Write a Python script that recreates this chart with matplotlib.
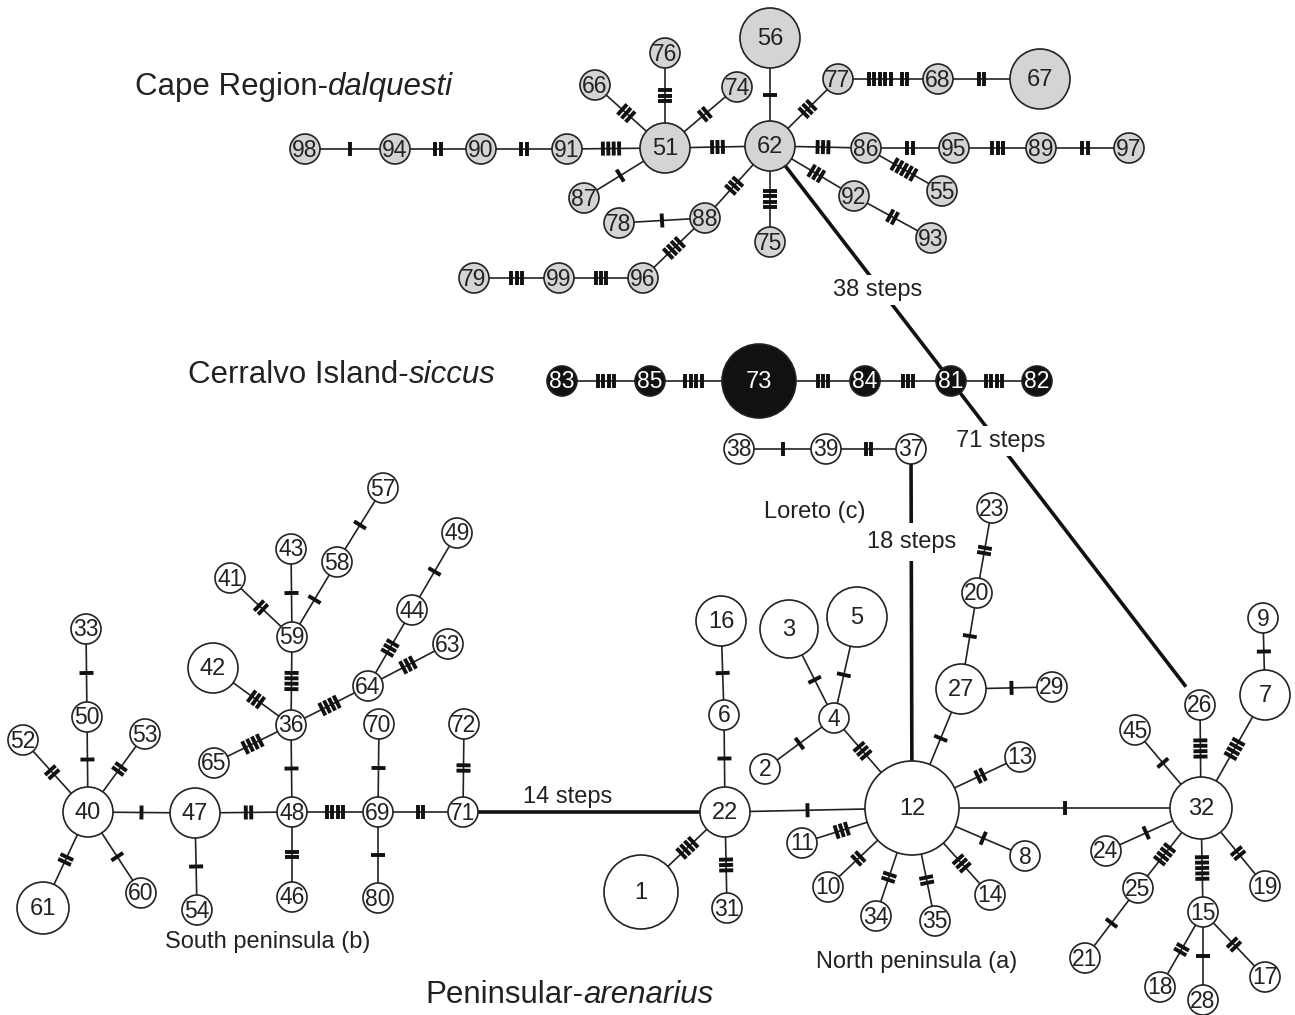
import numpy as np
import matplotlib
matplotlib.use("Agg")
import matplotlib.pyplot as plt
from matplotlib.patches import Circle

plt.rcParams['font.family'] = ['Liberation Sans', 'DejaVu Sans']

# --- Data Section ---

# haplotypes of each lineage
CAPE_HAPLOTYPES = [98, 94, 90, 91, 51, 66, 76, 74, 87, 78, 88, 96, 99, 79,
                   56, 62, 77, 68, 67, 86, 95, 89, 97, 55, 92, 93, 75]
CERRALVO_HAPLOTYPES = [83, 85, 73, 84, 81, 82]
PENINSULAR_HAPLOTYPES = [38, 39, 37,
                         40, 47, 48, 69, 71, 33, 50, 52, 53, 61, 60, 54, 46, 80,
                         70, 72, 36, 65, 42, 59, 41, 43, 58, 57, 64, 44, 49, 63,
                         22, 6, 16, 1, 31, 4, 3, 5, 2, 11, 10, 12, 27, 20, 23,
                         29, 13, 8, 14, 35, 34, 32, 26, 7, 9, 45, 24, 25, 21,
                         15, 18, 28, 17, 19]

# mutational steps between haplotypes (a tuple = separated groups of steps)
CAPE_EDGES = [(98, 94, 1), (94, 90, 2), (90, 91, 2), (91, 51, 4), (51, 62, 3),
              (51, 66, 3), (51, 76, 3), (51, 74, 2), (51, 87, 1), (78, 88, 1),
              (88, 62, 3), (88, 96, 4), (96, 99, 3), (99, 79, 3), (62, 56, 1),
              (62, 77, 3), (77, 68, (5, 2)), (68, 67, 2), (62, 86, 3),
              (86, 95, 2), (95, 89, 3), (89, 97, 2), (86, 55, 5), (62, 92, 3),
              (92, 93, 2), (62, 75, 4)]
CERRALVO_EDGES = [(83, 85, 4), (85, 73, 4), (73, 84, 3), (84, 81, 3), (81, 82, 4)]
LORETO_EDGES = [(38, 39, 1), (39, 37, 2)]
SOUTH_EDGES = [(40, 47, 1), (47, 48, 2), (48, 69, 4), (69, 71, 2), (40, 50, 1),
               (50, 33, 1), (40, 52, 2), (40, 53, 2), (40, 61, 2), (40, 60, 1),
               (47, 54, 1), (48, 46, 2), (48, 36, 1), (69, 70, 1), (69, 80, 1),
               (71, 72, 2), (36, 65, 4), (36, 42, 3), (36, 59, 4), (36, 64, 4),
               (59, 41, 2), (59, 43, 1), (59, 58, 1), (58, 57, 1), (64, 44, 3),
               (44, 49, 1), (64, 63, 3)]
NORTH_EDGES = [(22, 6, 1), (6, 16, 1), (22, 1, 4), (22, 31, 3), (22, 12, 1),
               (4, 3, 1), (4, 5, 1), (4, 2, 1), (4, 12, 3), (12, 11, 3),
               (12, 10, 2), (12, 27, 1), (27, 20, 1), (20, 23, 2), (27, 29, 1),
               (12, 13, 2), (12, 8, 1), (12, 14, 3), (12, 35, 2), (12, 34, 2),
               (12, 32, 1), (32, 26, 4), (32, 7, 4), (7, 9, 1), (32, 45, 1),
               (32, 24, 1), (32, 25, 4), (25, 21, 1), (32, 15, 5), (32, 19, 2),
               (15, 18, 2), (15, 28, 1), (15, 17, 2)]

# long connections drawn as bold lines
LONG_EDGES = [(71, 22, "14 steps"), (37, 12, "18 steps"),
              (62, 81, "38 steps"), (81, 26, "71 steps")]

# --- Layout Section (pixel coordinates: x, y, radius) ---

LAYOUT = {
    98: (305, 149, 15), 94: (395, 149, 15), 90: (481, 149, 15), 91: (567, 149, 15),
    51: (665, 148, 25), 66: (595, 85, 15), 76: (665, 53, 15), 74: (737, 87, 15),
    87: (584, 198, 15), 78: (619, 223, 15), 88: (705, 218, 15), 96: (643, 278, 15),
    99: (559, 278, 15), 79: (474, 278, 15), 56: (770, 38, 30), 62: (770, 146, 25),
    77: (838, 79, 15), 68: (938, 79, 15), 67: (1040, 79, 30), 86: (866, 148, 15),
    95: (954, 148, 15), 89: (1041, 148, 15), 97: (1129, 148, 15), 55: (942, 191, 15),
    92: (854, 196, 15), 93: (931, 238, 15), 75: (770, 242, 15),
    83: (562, 381, 15), 85: (650, 381, 15), 73: (759, 381, 37), 84: (865, 381, 15),
    81: (951, 381, 15), 82: (1037, 381, 15),
    38: (739, 449, 15), 39: (826, 449, 15), 37: (911, 449, 15),
    40: (88, 812, 25), 47: (195, 813, 25), 48: (292, 812, 15), 69: (378, 812, 15),
    71: (463, 812, 15), 33: (86, 629, 15), 50: (87, 717, 15), 52: (23, 740, 15),
    53: (145, 734, 15), 61: (43, 908, 26), 60: (141, 893, 15), 54: (197, 910, 15),
    46: (292, 897, 15), 80: (378, 898, 15), 70: (379, 724, 15), 72: (464, 724, 15),
    36: (291, 725, 15), 65: (214, 763, 15), 42: (213, 668, 25), 59: (292, 637, 15),
    41: (230, 578, 15), 43: (291, 549, 15), 58: (337, 562, 15), 57: (383, 488, 15),
    64: (368, 686, 15), 44: (412, 610, 15), 49: (457, 533, 15), 63: (448, 644, 15),
    22: (725, 812, 25), 6: (724, 715, 15), 16: (721, 621, 25), 1: (641, 892, 37),
    31: (727, 908, 15), 4: (834, 718, 15), 3: (789, 629, 29), 5: (857, 617, 30),
    2: (765, 769, 15), 11: (802, 843, 15), 10: (828, 887, 15), 12: (912, 808, 47),
    27: (961, 689, 25), 20: (977, 593, 15), 23: (992, 508, 15), 29: (1052, 687, 15),
    13: (1020, 757, 15), 8: (1025, 856, 15), 14: (990, 895, 15), 35: (935, 921, 15),
    34: (876, 916, 15), 32: (1201, 808, 31), 26: (1200, 705, 15), 7: (1265, 695, 25),
    9: (1263, 618, 15), 45: (1135, 730, 15), 24: (1106, 851, 15), 25: (1138, 888, 15),
    21: (1085, 958, 15), 15: (1203, 912, 15), 18: (1160, 987, 15), 28: (1203, 1000, 15),
    17: (1265, 977, 15), 19: (1265, 886, 15),
}

LINE_COLOR = '#222222'
GRAY_FILL = '#d4d4d4'
BLACK_FILL = '#111111'


# --- Functions Section ---

def edge_geometry(a, b):
    """Unit vector, normal and the visible segment between two circles."""
    xa, ya, ra = LAYOUT[a]
    xb, yb, rb = LAYOUT[b]
    d = np.array([xb - xa, yb - ya], dtype=float)
    u = d / np.linalg.norm(d)
    n = np.array([-u[1], u[0]])
    p0 = np.array([xa, ya]) + u * ra
    p1 = np.array([xb, yb]) - u * rb
    return u, n, p0, p1


def draw_edge(ax, a, b, steps):
    u, n, p0, p1 = edge_geometry(a, b)
    ax.plot([p0[0], p1[0]], [p0[1], p1[1]], color=LINE_COLOR, lw=1.2, zorder=1)

    # positions of the tick marks along the edge
    groups = steps if isinstance(steps, tuple) else (steps,)
    pitch, gap = 5.4, 11.0
    offsets = []
    pos = 0.0
    for gi, k in enumerate(groups):
        if gi > 0:
            pos += gap
        for i in range(k):
            offsets.append(pos)
            if i < k - 1:
                pos += pitch
    offsets = np.array(offsets) - pos / 2
    mid = (p0 + p1) / 2
    half = 7.0
    for off in offsets:
        c = mid + u * off
        ax.plot([c[0] - n[0] * half, c[0] + n[0] * half],
                [c[1] - n[1] * half, c[1] + n[1] * half],
                color='#111111', lw=2.8, solid_capstyle='butt', zorder=2)


def draw_node(ax, hid, fill, text_color):
    x, y, r = LAYOUT[hid]
    ax.add_patch(Circle((x, y), r, facecolor=fill, edgecolor=LINE_COLOR,
                        lw=1.2, zorder=3))
    size = 16.5 if r <= 15 else 17
    ax.text(x, y + 1, str(hid), ha='center', va='center', fontsize=size,
            color=text_color, zorder=4)


def draw_long_edge(ax, a, b, label):
    xa, ya, ra = LAYOUT[a]
    xb, yb, rb = LAYOUT[b]
    u, n, p0, p1 = edge_geometry(a, b)
    if a == 62:
        # bold line runs into haplotype 81
        p1 = np.array([xb, yb])
    if a == 81:
        p0 = np.array([xa, ya])
        p1 = p1 - u * 8
    ax.plot([p0[0], p1[0]], [p0[1], p1[1]], color='#111111', lw=2.6,
            solid_capstyle='butt', zorder=1)
    if label == "14 steps":
        ax.text(568, 797, label, ha='center', va='center', fontsize=17,
                color=LINE_COLOR, zorder=5)
    elif label == "18 steps":
        ax.text(912, 542, label, ha='center', va='center', fontsize=17,
                color=LINE_COLOR, zorder=5,
                bbox=dict(facecolor='white', edgecolor='none', pad=6))
    elif label == "38 steps":
        ax.text(878, 290, label, ha='center', va='center', fontsize=17,
                color=LINE_COLOR, zorder=5,
                bbox=dict(facecolor='white', edgecolor='none', pad=3))
    else:
        ax.text(1001, 441, label, ha='center', va='center', fontsize=17,
                color=LINE_COLOR, zorder=5,
                bbox=dict(facecolor='white', edgecolor='none', pad=3))


def group_title(ax, x, y, plain, italic):
    t = ax.text(x, y, plain, ha='left', va='baseline', fontsize=22.5,
                color=LINE_COLOR)
    ax.annotate(italic, xy=(1, 0), xycoords=t, ha='left', va='bottom',
                fontsize=22.5, style='italic', color=LINE_COLOR)


def plot_network():
    fig = plt.figure(figsize=(12.95, 10.15), dpi=100)
    ax = fig.add_axes([0, 0, 1, 1])
    ax.set_xlim(0, 1295)
    ax.set_ylim(1015, 0)
    ax.set_aspect('equal')
    ax.axis('off')

    for a, b, s in CAPE_EDGES + CERRALVO_EDGES + LORETO_EDGES + SOUTH_EDGES + NORTH_EDGES:
        draw_edge(ax, a, b, s)
    for a, b, label in LONG_EDGES:
        draw_long_edge(ax, a, b, label)

    for h in CAPE_HAPLOTYPES:
        draw_node(ax, h, GRAY_FILL, '#222222')
    for h in CERRALVO_HAPLOTYPES:
        draw_node(ax, h, BLACK_FILL, 'white')
    for h in PENINSULAR_HAPLOTYPES:
        draw_node(ax, h, 'white', '#222222')

    # lineage titles
    group_title(ax, 135, 95, "Cape Region-", "dalquesti")
    group_title(ax, 188, 383, "Cerralvo Island-", "siccus")
    group_title(ax, 425, 1003, "Peninsular-", "arenarius")

    # sub-group labels
    ax.text(268, 942, "South peninsula (b)", ha='center', va='center',
            fontsize=17, color=LINE_COLOR)
    ax.text(917, 962, "North peninsula (a)", ha='center', va='center',
            fontsize=17, color=LINE_COLOR)
    ax.text(815, 512, "Loreto (c)", ha='center', va='center',
            fontsize=17, color=LINE_COLOR)

    fig.savefig('out.png', dpi=100, facecolor='white')


def main():
    plot_network()


if __name__ == "__main__":
    main()
